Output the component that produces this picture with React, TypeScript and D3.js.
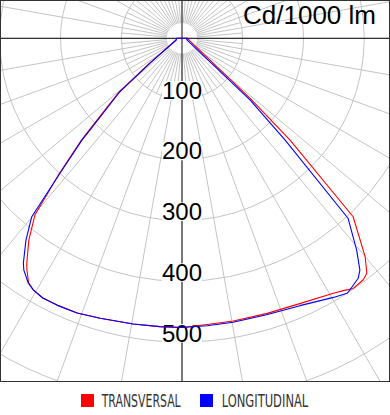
import React from "react";
import * as d3 from "d3";

// ---- data (angle from nadir in degrees, negative = left; intensity in cd/1000 lm)
const ringValues = [100, 200, 300, 400, 500, 600];
const ringLabels = ["100", "200", "300", "400", "500"];

const angleLong = [-90, -74, -52.3, -49.3, -45.1, -44.5, -42.1, -40.1, -37.7, -35.2, -34.3, -32.1, -30.6, -28.2, -25.1, -20.9, -16.3, -9.7, -4.4, 0, 5, 10.2, 17, 23.8, 30.3, 32.9, 33.7, 36.3, 37.5, 39.5, 42.7, 45.4, 47.8, 73, 90];
const valueLong = [9, 10, 66, 135, 214, 235, 300, 384, 420, 453, 462, 476, 481, 485, 485, 484, 480, 477, 476, 476, 475, 475, 476, 481, 494, 500, 498, 490, 481, 452, 403, 238, 151, 8, 10];

const angleTrans = [-90, -74, -52.5, -49.5, -45.3, -44.6, -42.2, -39.8, -37.2, -34.6, -33.8, -32.1, -30.6, -28.2, -25.1, -20.9, -16.3, -9.7, -4.4, 0, 5, 10.3, 17.2, 24.1, 30.7, 32.6, 34.4, 36.9, 38.2, 40.0, 43.8, 46.7, 48.6, 78, 90];
const valueTrans = [9, 10, 66, 136, 215, 236, 301, 378, 417, 450, 459, 475, 481, 485, 485, 484, 480, 477, 476, 476, 473, 473, 474, 478, 488, 493, 499, 497, 492, 469, 407, 244, 149, 11, 10];

const seriesNames = ["TRANSVERSAL", "LONGITUDINAL"];
const seriesColors = ["#ff0000", "#0000ff"];
const unitTitle = "Cd/1000 lm";

const W = 390;
const H = 415;
const frameH = 381;
const cx = 182;
const cy = 38.3;

export default function App() {
  const r = d3.scaleLinear().domain([0, 100]).range([0, 60.75]);
  const toRad = (deg: number) => Math.PI - (deg * Math.PI) / 180;

  const lineFor = (angles: number[], values: number[]) =>
    d3
      .lineRadial<number>()
      .angle((_, i) => toRad(angles[i]))
      .radius((_, i) => r(values[i]))
      .curve(d3.curveLinearClosed)(values) as string;

  const r0 = r(25);
  const spokes: { a: number; outer: number }[] = [];
  for (let a = 0; a < 360; a += 5) {
    spokes.push({ a, outer: a % 10 === 0 ? 600 : r(100) });
  }

  return (
    <svg width={W} height={H} style={{ position: "absolute", left: 0, top: 0 }} fontFamily="'Liberation Sans', Arial, sans-serif">
      <defs>
        <clipPath id="frame">
          <rect x={0} y={0} width={W} height={frameH + 0.5} />
        </clipPath>
      </defs>
      <rect x={0} y={0} width={W} height={H} fill="#fff" />
      <g clipPath="url(#frame)">
        {spokes.map((s) => {
          const t = (s.a * Math.PI) / 180;
          return (
            <line
              key={s.a}
              x1={cx + r0 * Math.sin(t)}
              y1={cy + r0 * Math.cos(t)}
              x2={cx + s.outer * Math.sin(t)}
              y2={cy + s.outer * Math.cos(t)}
              stroke="#c4c4c4"
              strokeWidth={1}
            />
          );
        })}
        {ringValues.map((v) => (
          <circle key={v} cx={cx} cy={cy} r={r(v)} fill="none" stroke="#c4c4c4" strokeWidth={1} />
        ))}
        <line x1={0} x2={W} y1={cy} y2={cy} stroke="#333" strokeWidth={1.2} />
        <line x1={cx} x2={cx} y1={0} y2={frameH} stroke="#333" strokeWidth={1.2} />
        {ringLabels.map((lab, i) => {
          const y = cy + r(ringValues[i]);
          return (
            <g key={lab}>
              <rect x={cx - 20} y={y - 18} width={40} height={18.5} fill="#fff" />
              <text x={cx} y={y - 0.5} textAnchor="middle" fontSize={24} fill="#000">
                {lab}
              </text>
            </g>
          );
        })}
        <g transform={`translate(${cx},${cy})`} fill="none" strokeWidth={1.1} strokeLinejoin="round">
          <path d={lineFor(angleTrans, valueTrans)} stroke={seriesColors[0]} />
          <path d={lineFor(angleLong, valueLong)} stroke={seriesColors[1]} />
        </g>
        <text x={376} y={23.5} textAnchor="end" fontSize={26} fill="#000">
          {unitTitle}
        </text>
      </g>
      <rect x={0.5} y={0.5} width={W - 1} height={frameH} fill="none" stroke="#333" strokeWidth={1} />
      {/* legend */}
      <rect x={81} y={394} width={13} height={13} fill={seriesColors[0]} />
      <text x={101.7} y={407.3} fontSize={17.5} fill="#333" textLength={79} lengthAdjust="spacingAndGlyphs" fontFamily="'Liberation Sans Narrow', 'DejaVu Sans Condensed', sans-serif">
        {seriesNames[0]}
      </text>
      <rect x={200} y={394} width={13} height={13} fill={seriesColors[1]} />
      <text x={221.7} y={407.3} fontSize={17.5} fill="#333" textLength={86.6} lengthAdjust="spacingAndGlyphs" fontFamily="'Liberation Sans Narrow', 'DejaVu Sans Condensed', sans-serif">
        {seriesNames[1]}
      </text>
    </svg>
  );
}
